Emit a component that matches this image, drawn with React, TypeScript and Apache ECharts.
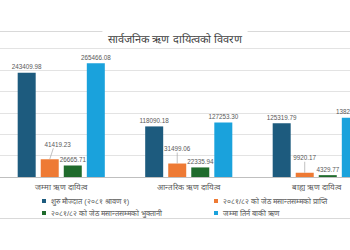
import React, { useEffect, useRef } from "react";
import * as echarts from "echarts";

const categories = ["जम्मा ऋण दायित्व", "आन्तरिक ऋण दायित्व", "बाह्य ऋण दायित्व"];
const seriesNames = [
  "शुरु मौज्दात (२०८१ श्रावण १)",
  "२०८१/८२ को जेठ मसान्तसम्मको प्राप्ति",
  "२०८१/८२ को जेठ मसान्तसम्मको भुक्तानी",
  "जम्मा तिर्न बाकी ऋण",
];
const openingBalance = [243409.98, 118090.18, 125319.79];
const received = [41419.23, 31499.06, 9920.17];
const repaid = [26665.71, 22335.94, 4329.77];
const outstanding = [265466.08, 127253.3, 138212.78];
const colors = ["#1d5b7e", "#ee7a34", "#1f6b2c", "#1aa2dc"];
const yTicks = { min: 0, max: 300000, interval: 50000 };

// horizontal nudge of the callout labels on the "received" bars
const receivedLabelDx = [8, 0, 0];

const BAR_W = 18;
const BAR_GAP = 0.28;
const labelFont = "'Liberation Sans', 'Noto Sans', sans-serif";

export default function App() {
  const ref = useRef<HTMLDivElement>(null);

  useEffect(() => {
    if (!ref.current) return;
    const chart = echarts.init(ref.current, null, { renderer: "svg" });
    const values = [openingBalance, received, repaid, outstanding];

    const barLabel = {
      show: true,
      position: "top",
      distance: 3,
      fontSize: 6.3,
      fontFamily: labelFont,
      color: "#595959",
      formatter: (p: any) => Number(p.value).toFixed(2),
    };

    const bars = values.map((data, i) => ({
      name: seriesNames[i],
      type: "bar",
      data,
      barWidth: BAR_W,
      barGap: `${BAR_GAP * 100}%`,
      itemStyle: { color: colors[i] },
      label: i === 1 ? { show: false } : barLabel,
    }));

    // callout labels with a leader line for the "received" bars
    const groupWidth = 4 * BAR_W + 3 * BAR_W * BAR_GAP;
    const receivedOffset = -groupWidth / 2 + BAR_W * (1 + BAR_GAP) + BAR_W / 2;
    const callouts = {
      type: "custom",
      name: "callouts",
      silent: true,
      z: 5,
      data: received.map((v, i) => [i, v]),
      renderItem: (params: any, api: any) => {
        const idx = api.value(0);
        const val = api.value(1);
        const top = api.coord([idx, val]);
        const cx = top[0] + receivedOffset;
        const ty = top[1];
        const dx = receivedLabelDx[params.dataIndex];
        const ly = ty - 15;
        return {
          type: "group",
          children: [
            {
              type: "line",
              shape: { x1: cx, y1: ty, x2: cx + dx * 0.45, y2: ly + 4 },
              style: { stroke: "#a6a6a6", lineWidth: 0.7 },
            },
            {
              type: "text",
              x: cx + dx,
              y: ly,
              style: {
                text: Number(val).toFixed(2),
                fontSize: 6.3,
                fontFamily: labelFont,
                fill: "#595959",
                align: "center",
                verticalAlign: "middle",
              },
            },
          ],
        };
      },
    };

    const legendPos = [
      { left: 42, top: 197 },
      { left: 214, top: 197 },
      { left: 42, top: 209 },
      { left: 214, top: 209 },
    ];

    chart.setOption({
      animation: false,
      backgroundColor: "#ffffff",
      title: {
        text: "सार्वजनिक ऋण दायित्वको विवरण",
        left: "center",
        top: 31,
        backgroundColor: "#ffffff",
        padding: [2, 6],
        textStyle: { fontSize: 11, fontWeight: "normal", color: "#404040" },
        z: 10,
      },
      grid: {
        left: -2.5,
        width: 382.5,
        top: 48.5,
        bottom: 73,
        containLabel: false,
        outerBoundsMode: "none",
      },
      xAxis: {
        type: "category",
        data: categories,
        axisTick: { show: false },
        axisLine: { lineStyle: { color: "#bfbfbf", width: 1 } },
        axisLabel: { fontSize: 8, color: "#595959", margin: 6 },
      },
      yAxis: {
        type: "value",
        min: yTicks.min,
        max: yTicks.max,
        interval: yTicks.interval,
        axisLabel: { show: false },
        axisLine: { show: false },
        axisTick: { show: false },
        splitLine: { lineStyle: { color: "#e3e3e3", width: 1 } },
      },
      legend: seriesNames.map((name, i) => ({
        data: [name],
        left: legendPos[i].left,
        top: legendPos[i].top,
        itemWidth: 4,
        itemHeight: 4,
        padding: 0,
        icon: "rect",
        textStyle: { fontSize: 7.5, color: "#595959" },
      })),
      graphic: [
        { type: "line", shape: { x1: 0, y1: 31.5, x2: 350, y2: 31.5 }, style: { stroke: "#d9d9d9", lineWidth: 1 }, silent: true },
        { type: "line", shape: { x1: 0, y1: 218.5, x2: 350, y2: 218.5 }, style: { stroke: "#d9d9d9", lineWidth: 1 }, silent: true },
      ],
      series: [...bars, callouts],
    });

    return () => chart.dispose();
  }, []);

  return <div ref={ref} style={{ width: 350, height: 250, position: "absolute", left: 0, top: 0 }} />;
}
